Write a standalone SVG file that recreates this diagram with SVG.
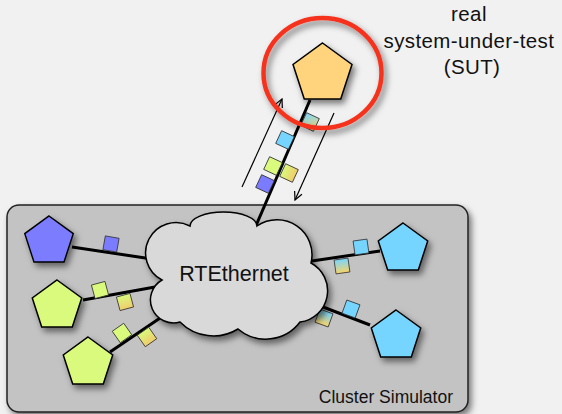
<svg xmlns="http://www.w3.org/2000/svg" width="562" height="414" viewBox="0 0 562 414">
  <style>
    .lbl { font-family: "Liberation Sans", Arial, sans-serif; fill: #111; }
    .link { stroke: #000; stroke-width: 3; fill: none; }
    .arr { stroke: #000; stroke-width: 1.2; fill: none; marker-end: url(#ah); }
    .node { stroke: #000; stroke-width: 1.5; stroke-linejoin: miter; }
    .pkt { stroke: #333; stroke-width: 0.8; }
  </style>
  <defs>
    <filter id="sh" x="-30%" y="-30%" width="160%" height="160%">
      <feDropShadow dx="3" dy="4" stdDeviation="3" flood-color="#000" flood-opacity="0.5"/>
    </filter>
    <linearGradient id="gCY" x1="0" y1="0" x2="0" y2="1">
      <stop offset="0" stop-color="#78d6ff"/>
      <stop offset="1" stop-color="#f7d46a"/>
    </linearGradient>
    <linearGradient id="gCYd" x1="0" y1="0" x2="1" y2="1">
      <stop offset="0" stop-color="#78d6ff"/>
      <stop offset="1" stop-color="#f7d46a"/>
    </linearGradient>
    <linearGradient id="gGY" x1="0" y1="0" x2="0" y2="1">
      <stop offset="0" stop-color="#d9fa7c"/>
      <stop offset="1" stop-color="#f0cc6c"/>
    </linearGradient>
    <linearGradient id="gGYh" x1="0" y1="0" x2="1" y2="0">
      <stop offset="0" stop-color="#d9fa7c"/>
      <stop offset="1" stop-color="#f0cc6c"/>
    </linearGradient>
    <polygon id="pent" points="0,-26 24.73,-8.03 15.29,21.03 -15.29,21.03 -24.73,-8.03"/>
    <rect id="sq" x="-7" y="-7" width="14" height="14"/>
    <marker id="ah" viewBox="0 0 10 10" refX="9" refY="5" markerWidth="10" markerHeight="10" markerUnits="userSpaceOnUse" orient="auto">
      <path d="M1,1 L9,5 L1,9" fill="none" stroke="#000" stroke-width="1.2"/>
    </marker>
  </defs>

  <rect x="0" y="0" width="562" height="414" fill="#f1f1f1"/>

  <g id="cluster">
    <rect x="7" y="205" width="461" height="207" rx="12" ry="12" fill="#c3c3c3" stroke="#222" stroke-width="1.5" filter="url(#sh)"/>
    <text class="lbl" x="453" y="403" font-size="17.5" text-anchor="end">Cluster Simulator</text>
  </g>

  <g id="connectors">
    <line class="link" x1="310" y1="100" x2="255" y2="228"/>
    <line class="link" x1="72" y1="247" x2="152" y2="259"/>
    <line class="link" x1="83" y1="300" x2="155" y2="287"/>
    <line class="link" x1="110" y1="352" x2="166" y2="314"/>
    <line class="link" x1="305" y1="262" x2="380" y2="251"/>
    <line class="link" x1="310" y1="302" x2="370" y2="325"/>
    <line class="arr" x1="242" y1="187" x2="282" y2="99"/>
    <line class="arr" x1="334" y1="113" x2="295" y2="200"/>
  </g>

  <g id="packets">
    <use href="#sq" class="pkt" fill="url(#gCYd)" transform="translate(310,122) rotate(25)"/>
    <use href="#sq" class="pkt" fill="#75d5ff" transform="translate(285,140) rotate(25)"/>
    <use href="#sq" class="pkt" fill="#d9fa7c" transform="translate(273,166) rotate(25)"/>
    <use href="#sq" class="pkt" fill="url(#gGYh)" transform="translate(289,173) rotate(25)"/>
    <use href="#sq" class="pkt" fill="#7b7bff" transform="translate(265,184) rotate(25)"/>
    <use href="#sq" class="pkt" fill="#7b7bff" transform="translate(111,244) rotate(10)"/>
    <use href="#sq" class="pkt" fill="#d9fa7c" transform="translate(100,290) rotate(-15)"/>
    <use href="#sq" class="pkt" fill="url(#gGY)" transform="translate(125,302) rotate(-15)"/>
    <use href="#sq" class="pkt" fill="#d9fa7c" transform="translate(122,333) rotate(-35)"/>
    <use href="#sq" class="pkt" fill="url(#gGY)" transform="translate(147,337) rotate(-35)"/>
    <use href="#sq" class="pkt" fill="#75d5ff" transform="translate(361,247) rotate(-8)"/>
    <use href="#sq" class="pkt" fill="url(#gCY)" transform="translate(342,266) rotate(-8)"/>
    <use href="#sq" class="pkt" fill="#75d5ff" transform="translate(351,309) rotate(20)"/>
    <use href="#sq" class="pkt" fill="url(#gCY)" transform="translate(324,318) rotate(20)"/>
  </g>

  <g id="rtethernet">
    <path d="M162,280 A30.4,30.4 0 0 1 190,226 A33.5,14 0 0 1 257,226 A35,35 0 0 1 311,263 A31.5,31.5 0 0 1 300,322 A43,43 0 0 1 238,329 A47,47 0 0 1 180,322 A23,23 0 0 1 162,280 Z" fill="#d9d9d9" stroke="#000" stroke-width="1.5" filter="url(#sh)"/>
    <text class="lbl" x="234" y="281" font-size="21.5" text-anchor="middle">RTEthernet</text>
  </g>

  <g id="node-blue"><use href="#pent" class="node" fill="#7b7bff" filter="url(#sh)" transform="translate(49,241.5) scale(0.98)"/></g>
  <g id="node-green1"><use href="#pent" class="node" fill="#d9fa7c" filter="url(#sh)" transform="translate(57,306)"/></g>
  <g id="node-green2"><use href="#pent" class="node" fill="#d9fa7c" filter="url(#sh)" transform="translate(88,363)"/></g>
  <g id="node-cyan1"><use href="#pent" class="node" fill="#75d5ff" filter="url(#sh)" transform="translate(403,249)"/></g>
  <g id="node-cyan2"><use href="#pent" class="node" fill="#75d5ff" filter="url(#sh)" transform="translate(396,336)"/></g>

  <g id="sut">
    <polygon class="node" fill="#ffd47c" filter="url(#sh)" points="322.5,43 351.98,64.42 340.73,99.08 304.27,99.08 293.02,64.42"/>
    <ellipse cx="322.5" cy="73" rx="59" ry="55" fill="none" stroke="#f5321e" stroke-width="4.5" filter="url(#sh)"/>
    <text class="lbl" font-size="20.5" text-anchor="middle" letter-spacing="0.4">
      <tspan x="472" y="21">real</tspan>
      <tspan x="472" y="47.5">system-under-test</tspan>
      <tspan x="472" y="74">(SUT)</tspan>
    </text>
  </g>
</svg>
